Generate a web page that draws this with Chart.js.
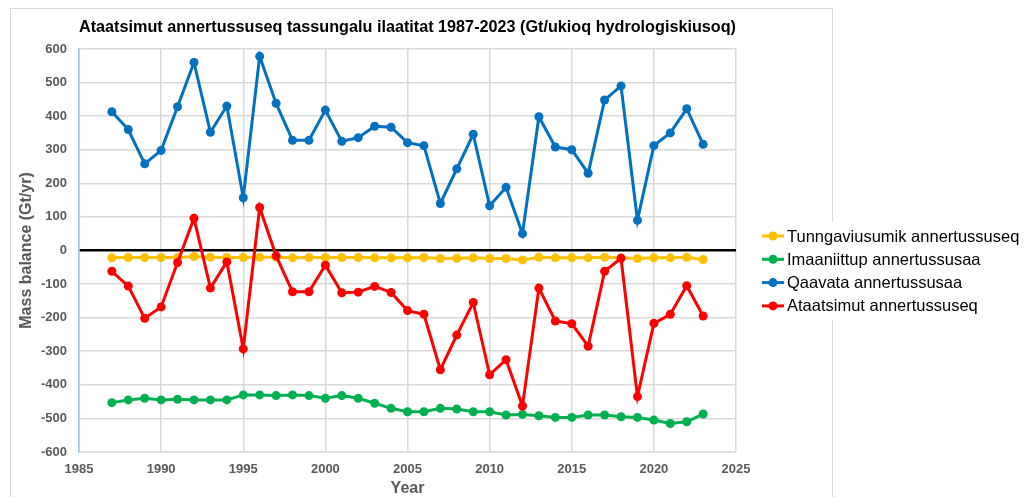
<!DOCTYPE html>
<html>
<head>
<meta charset="utf-8">
<script src="https://cdn.jsdelivr.net/npm/chart.js@4.4.1/dist/chart.umd.min.js"></script>
<style>
  html, body { margin: 0; padding: 0; background: #fff; }
  #wrap { width: 1025px; height: 497px; }
</style>
</head>
<body>
<div id="wrap"><canvas id="grafico" width="1025" height="497"></canvas></div>
<script>
// Years (x values)
const years = [1987, 1988, 1989, 1990, 1991, 1992, 1993, 1994, 1995, 1996,
               1997, 1998, 1999, 2000, 2001, 2002, 2003, 2004, 2005, 2006,
               2007, 2008, 2009, 2010, 2011, 2012, 2013, 2014, 2015, 2016,
               2017, 2018, 2019, 2020, 2021, 2022, 2023];

// Series values (Gt/yr)
const tunngaviusumik = [-22, -21, -21, -21, -21, -18, -20, -21, -21, -20,
                        -20, -22, -21, -21, -21, -21, -22, -22, -22, -21,
                        -24, -23, -22, -24, -24, -28, -20, -22, -22, -22,
                        -20, -22, -24, -22, -22, -20, -27];
const imaaniittup = [-453, -445, -440, -445, -443, -445, -445, -445, -430, -430,
                     -432, -430, -432, -440, -432, -440, -455, -470, -480, -480,
                     -470, -472, -480, -480, -490, -488, -492, -497, -497, -490,
                     -490, -495, -497, -505, -515, -510, -487];
const qaavata = [413, 360, 258, 298, 428, 560, 352, 430, 157, 578,
                 438, 328, 328, 418, 325, 336, 370, 367, 321, 312,
                 140, 243, 346, 133, 188, 50, 398, 308, 300, 230,
                 448, 490, 90, 312, 350, 422, 316];
const ataatsimut = [-62, -106, -202, -168, -36, 96, -112, -34, -293, 128,
                    -16, -123, -123, -44, -126, -124, -107, -125, -179, -190,
                    -355, -252, -155, -370, -325, -463, -112, -210, -218, -285,
                    -62, -23, -435, -217, -190, -105, -195];

const seriesLabels = ["Tunngaviusumik annertussuseq", "Imaaniittup annertussusaa",
                      "Qaavata annertussusaa", "Ataatsimut annertussuseq"];
const seriesColors = ["#FFC000", "#00B050", "#0070C0", "#FF0000"];

const titleText = "Ataatsimut annertussuseq tassungalu ilaatitat 1987-2023 (Gt/ukioq hydrologiskiusoq)";
const yTitle = "Mass balance (Gt/yr)";
const xTitle = "Year";

const grey = "#595959";
const gridColor = "#d9d9d9";
const fuente = "'Liberation Sans', Arial, sans-serif";

function toPoints(values) {
    return values.map((v, i) => ({ x: years[i], y: v }));
}

const allSeries = [tunngaviusumik, imaaniittup, qaavata, ataatsimut];
const datasets = allSeries.map((vals, i) => ({
    label: seriesLabels[i],
    data: toPoints(vals),
    borderColor: seriesColors[i],
    backgroundColor: seriesColors[i],
    borderWidth: 3,
    pointRadius: 4.5,
    pointHoverRadius: 4.5,
    pointBorderWidth: 0,
    tension: 0,
    order: 3 - i
}));

// Borde exterior del gráfico (estilo Excel)
const borderPlugin = {
    id: "bordeExterior",
    beforeDraw(chart) {
        const ctx = chart.ctx;
        ctx.save();
        ctx.fillStyle = "#fff";
        ctx.fillRect(0, 0, chart.width, chart.height);
        ctx.strokeStyle = gridColor;
        ctx.lineWidth = 1;
        ctx.strokeRect(10.5, 8.5, 822, 520);
        ctx.restore();
    }
};

// Leyenda con marcador línea + punto
const legendPlugin = {
    id: "leyenda",
    afterDraw(chart) {
        const ctx = chart.ctx;
        const x0 = 762, startY = 236, step = 23.3;
        ctx.save();
        ctx.fillStyle = "#fff";
        ctx.fillRect(752, 222, 273, 98);
        chart.data.datasets.forEach((ds, i) => {
            const y = startY + i * step;
            ctx.strokeStyle = ds.borderColor;
            ctx.lineWidth = 3;
            ctx.beginPath();
            ctx.moveTo(x0, y);
            ctx.lineTo(x0 + 22, y);
            ctx.stroke();
            ctx.fillStyle = ds.borderColor;
            ctx.beginPath();
            ctx.arc(x0 + 11, y, 4.5, 0, Math.PI * 2);
            ctx.fill();
            ctx.fillStyle = "#000";
            ctx.font = "16.5px " + fuente;
            ctx.textBaseline = "middle";
            ctx.fillText(ds.label, x0 + 25, y + 1);
        });
        ctx.restore();
    }
};

const ctx = document.getElementById("grafico").getContext("2d");
new Chart(ctx, {
    type: "line",
    data: { datasets: datasets },
    options: {
        responsive: false,
        animation: false,
        layout: { padding: { top: 0, right: 289, bottom: 0, left: 0 } },
        plugins: {
            legend: { display: false },
            tooltip: { enabled: false },
            title: {
                display: true,
                text: titleText,
                fullSize: false,
                color: "#000",
                font: { family: fuente, size: 16.3, weight: "bold", lineHeight: 1.2 },
                padding: { top: 18, bottom: 11.4 }
            }
        },
        scales: {
            x: {
                type: "linear",
                min: 1985,
                max: 2025,
                afterFit(scale) { scale.height = 45; },
                ticks: {
                    stepSize: 5,
                    color: grey,
                    padding: 10,
                    maxRotation: 0,
                    font: { family: fuente, size: 13, weight: "bold" },
                    callback: v => String(v)
                },
                grid: { color: gridColor, lineWidth: 1.5, drawTicks: false },
                border: { color: gridColor, width: 1.5 },
                title: {
                    display: true,
                    text: xTitle,
                    color: grey,
                    font: { family: fuente, size: 16, weight: "bold", lineHeight: 1 },
                    padding: { top: 0, bottom: 0 }
                }
            },
            y: {
                min: -600,
                max: 600,
                afterFit(scale) { scale.width = 79; },
                ticks: {
                    stepSize: 100,
                    color: grey,
                    padding: 12,
                    font: { family: fuente, size: 13, weight: "bold" }
                },
                grid: {
                    drawTicks: false,
                    color: c => (c.tick && c.tick.value === 0 ? "#000" : gridColor),
                    lineWidth: c => (c.tick && c.tick.value === 0 ? 2.5 : 1.5)
                },
                border: { color: "#9DC3E6", width: 1.5 },
                title: {
                    display: true,
                    text: yTitle,
                    color: grey,
                    font: { family: fuente, size: 16, weight: "bold", lineHeight: 1.2 },
                    padding: { top: 17, bottom: 0 }
                }
            }
        }
    },
    plugins: [borderPlugin, legendPlugin]
});
</script>
</body>
</html>
